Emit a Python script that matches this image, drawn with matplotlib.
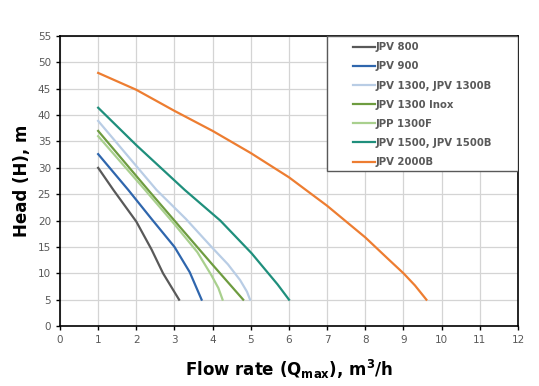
import matplotlib.pyplot as plt
from matplotlib.patches import Rectangle

# pump curves (flow m3/h, head m)
jpv800_q = [1, 1.4, 2.0, 2.4, 2.7, 3.12]
jpv800_h = [30, 25.8, 19.8, 14.5, 10, 5]

jpv900_q = [1, 1.79, 2.4, 3.0, 3.4, 3.71]
jpv900_h = [32.6, 25.8, 20.3, 15, 10.2, 5]

jpv1300_q = [1, 2.53, 3.3, 3.97, 4.4, 4.72, 4.9, 4.98]
jpv1300_h = [38.9, 25.8, 20.3, 15, 11.7, 8.7, 6.5, 5]

inox_q = [1, 2.31, 3.2, 4.0, 4.8]
inox_h = [37, 25.8, 18.3, 11.6, 5]

jpp1300f_q = [1, 2.23, 3.0, 3.6, 3.97, 4.15, 4.26]
jpp1300f_h = [36, 25.8, 19.3, 14, 9.6, 7.2, 5]

jpv1500_q = [1, 2.0, 3.27, 4.2, 5.02, 5.4, 5.7, 6.0]
jpv1500_h = [41.4, 34.3, 25.8, 20, 13.8, 10.5, 7.9, 5]

jpv2000_q = [1, 2, 3, 4, 5, 6, 7, 8, 8.6, 9, 9.3, 9.6]
jpv2000_h = [48, 44.8, 40.8, 37.0, 32.8, 28.2, 22.8, 16.8, 12.7, 10, 7.7, 5]

series = [
    ("JPV 800", jpv800_q, jpv800_h, "#595959"),
    ("JPV 900", jpv900_q, jpv900_h, "#2f66ad"),
    ("JPV 1300, JPV 1300B", jpv1300_q, jpv1300_h, "#b9cde5"),
    ("JPV 1300 Inox", inox_q, inox_h, "#6e9c40"),
    ("JPP 1300F", jpp1300f_q, jpp1300f_h, "#a9d08e"),
    ("JPV 1500, JPV 1500B", jpv1500_q, jpv1500_h, "#1f8f7c"),
    ("JPV 2000B", jpv2000_q, jpv2000_h, "#ed7d31"),
]

fig = plt.figure(figsize=(5.39, 3.86), dpi=100)
ax = fig.add_axes([0.1113, 0.1554, 0.8497, 0.7513])

for name, q, h, c in series:
    ax.plot(q, h, color=c, lw=1.6, label=name)

ax.set_xlim(0, 12)
ax.set_ylim(0, 55)
ax.set_xticks(range(0, 13))
ax.set_yticks(range(0, 56, 5))
ax.grid(True, color="#d4d4d4", lw=0.9)
ax.set_axisbelow(True)
ax.tick_params(labelsize=7.5, labelcolor="#595959", length=3, width=1, direction="out")
for s in ax.spines.values():
    s.set_color("black")
    s.set_linewidth(1.2)

ax.set_xlabel("Flow rate (Q$_{\\mathbf{max}}$), m$^\\mathbf{3}$/h", fontsize=12,
              fontweight="bold", labelpad=9)
ax.set_ylabel("Head (H), m", fontsize=12, fontweight="bold", labelpad=5)

# legend box: white frame at top right, entries centred inside
bx, by, bw, bh = 0.583, 0.534, 0.417, 0.466
ax.add_patch(Rectangle((bx, by), bw, bh, transform=ax.transAxes, facecolor="white",
                       edgecolor="#595959", lw=1.0, zorder=5))
leg = ax.legend(loc="center", bbox_to_anchor=(bx + bw / 2, by + bh / 2 - 0.004),
                frameon=False, fontsize=7.3, handlelength=2.2, handletextpad=0,
                borderpad=0, labelspacing=0.9)
leg.set_zorder(6)
for t in leg.get_texts():
    t.set_color("#595959")
    t.set_fontweight("bold")

fig.savefig("out.png", dpi=100)
